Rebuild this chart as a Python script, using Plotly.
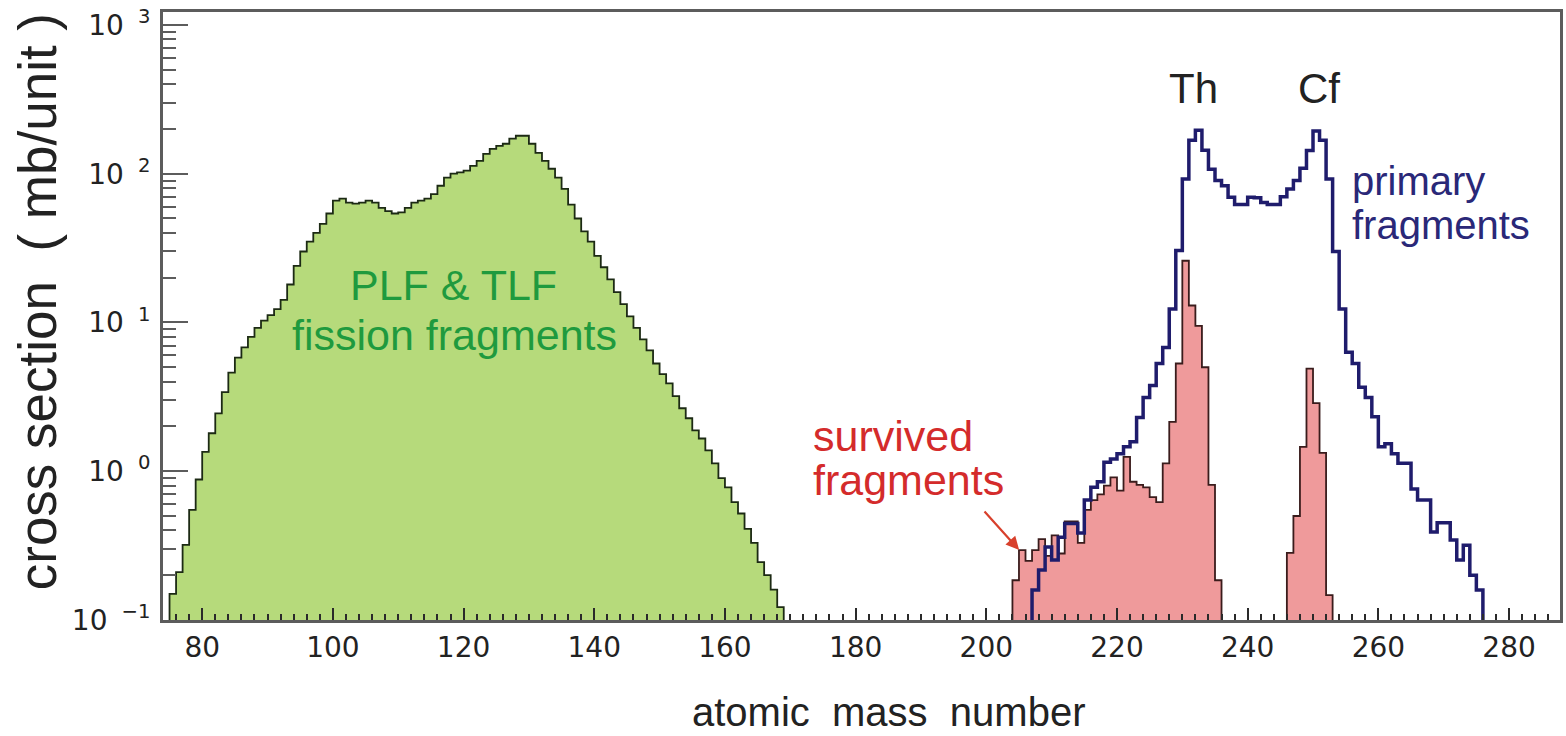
import plotly.graph_objects as go

# ---- cross sections per mass unit (mb/unit); each list starts at its first bin's lower edge ----
fission_start = 75
fission_vals = [
    0.15, 0.21, 0.32, 0.55, 0.88, 1.35, 1.8, 2.45, 3.4, 4.6,          # 75-84
    5.8, 6.8, 8.0, 9.2, 10.3, 11.2, 12.3, 14.2, 18, 24,               # 85-94
    30, 35, 40, 46, 54, 66, 68, 64, 63, 64,                           # 95-104
    66, 64, 59, 56, 54, 55, 59, 64, 66, 68,                           # 105-114
    73, 83, 94, 100, 102, 105, 113, 122, 136, 147,                    # 115-124
    154, 159, 172, 180, 180, 159, 138, 122, 108, 94,                  # 125-134
    79, 62, 50, 41, 35, 28, 23.5, 19.5, 16, 13.3,                     # 135-144
    11, 9.2, 7.7, 6.5, 5.3, 4.5, 3.9, 3.2, 2.65, 2.27,                # 145-154
    1.88, 1.66, 1.38, 1.13, 0.9, 0.78, 0.62, 0.52, 0.41, 0.33,        # 155-164
    0.245, 0.2, 0.16, 0.122,                                          # 165-168
]

survived_th_start = 204
survived_th_vals = [
    0.185, 0.295, 0.25, 0.295, 0.35, 0.27, 0.37, 0.28, 0.46, 0.46,    # 204-213
    0.33, 0.55, 0.64, 0.70, 0.80, 0.91, 0.74, 1.25, 0.85, 0.81,       # 214-223
    0.78, 0.67, 0.62, 1.13, 2.15, 5.3, 26, 13, 9.5, 5.0,              # 224-233
    0.81, 0.185,                                                      # 234-235
]

survived_cf_start = 246
survived_cf_vals = [0.283, 0.5, 1.46, 4.9, 2.87, 1.33, 0.147]        # 246-252

primary_start = 207
primary_vals = [
    0.159, 0.217, 0.31, 0.253, 0.36, 0.445, 0.445, 0.385, 0.64, 0.78, # 207-216
    0.85, 1.15, 1.21, 1.31, 1.46, 1.58, 2.3, 3.13, 3.77, 5.3,         # 217-226
    6.8, 12.3, 30.5, 92, 168, 196, 144, 107, 90, 83,                  # 227-236
    69.5, 62, 62, 69.5, 69, 64, 62, 62, 70, 79,                       # 237-246
    90, 109, 143, 194, 168, 92, 30, 12.3, 6.3, 5.3,                   # 247-256
    3.67, 3.13, 2.32, 1.46, 1.53, 1.31, 1.13, 1.13, 0.76, 0.64,       # 257-266
    0.64, 0.39, 0.45, 0.45, 0.345, 0.253, 0.318, 0.2, 0.159,          # 267-275
]

x_tick_vals = [80, 100, 120, 140, 160, 180, 200, 220, 240, 260, 280]
y_tick_vals = [0.1, 1, 10, 100, 1000]
y_tick_text = ["10\u2002<sup>\u22121</sup>", "10\u2002<sup>0</sup>", "10\u2002<sup>1</sup>",
               "10\u2002<sup>2</sup>", "10\u2002<sup>3</sup>"]

FLOOR = 1e-3  # below the visible range, closes the filled outlines


def step_outline(start, vals):
    """Histogram outline (1-unit bins) as hv-step vertices, closed down to FLOOR."""
    xs, ys = [start], [FLOOR]
    for i, v in enumerate(vals):
        xs.append(start + i)
        ys.append(v)
    end = start + len(vals)
    xs += [end, end]
    ys += [vals[-1], FLOOR]
    return xs, ys


fig = go.Figure()

gx, gy = step_outline(fission_start, fission_vals)
fig.add_trace(go.Scatter(x=gx, y=gy, mode="lines", line_shape="hv", fill="toself",
                         fillcolor="#b6da7b", line=dict(color="#1c2a14", width=1.8),
                         hoverinfo="skip", showlegend=False))

for start, vals in ((survived_th_start, survived_th_vals), (survived_cf_start, survived_cf_vals)):
    rx, ry = step_outline(start, vals)
    fig.add_trace(go.Scatter(x=rx, y=ry, mode="lines", line_shape="hv", fill="toself",
                             fillcolor="#ef9a9b", line=dict(color="#3a1c1c", width=1.8),
                             hoverinfo="skip", showlegend=False))

bx, by = step_outline(primary_start, primary_vals)
fig.add_trace(go.Scatter(x=bx, y=by, mode="lines", line_shape="hv",
                         line=dict(color="#1f1c6c", width=3.5),
                         hoverinfo="skip", showlegend=False))

L, R, T, B = 163, 1563, 12, 620  # plot-area edges in page pixels
W, H = 1566, 736


def px(xp):
    return (xp - L) / (R - L)


def py(yp):
    return (B - yp) / (B - T)


axis_col = "#5c5c5c"
tick_font = dict(family="DejaVu Sans", size=28, color="#222222")

y_minor = [k * 10.0 ** d for d in range(-1, 3) for k in range(2, 10)]

fig.update_layout(
    width=W, height=H,
    margin=dict(l=L, r=W - R, t=T, b=H - B, pad=0),
    paper_bgcolor="white", plot_bgcolor="white",
    xaxis=dict(range=[74, 287.8], tickmode="array", tickvals=x_tick_vals,
               ticks="inside", ticklen=12, tickwidth=2, tickcolor="#2a2a2a",
               minor=dict(dtick=2, tick0=0, ticks="inside", ticklen=6, tickwidth=1.5,
                          tickcolor="#2a2a2a", showgrid=False),
               showline=True, linecolor=axis_col, linewidth=3, mirror=True,
               showgrid=False, zeroline=False, tickfont=tick_font,
               ticklabelstandoff=0),
    yaxis=dict(type="log", range=[-1, 3.087], tickmode="array",
               tickvals=y_tick_vals, ticktext=y_tick_text,
               ticks="inside", ticklen=25, tickwidth=2, tickcolor=axis_col,
               minor=dict(tickmode="array", tickvals=y_minor, ticks="inside",
                          ticklen=13, tickwidth=2, tickcolor=axis_col, showgrid=False),
               showline=True, linecolor=axis_col, linewidth=3, mirror=True,
               showgrid=False, zeroline=False, tickfont=tick_font,
               ticklabelstandoff=4),
)

ann = []


def label(text, xp, yp, color, size, xanchor="center"):
    ann.append(dict(text=text, x=px(xp), y=py(yp), xref="paper", yref="paper",
                    xanchor=xanchor, yanchor="middle", showarrow=False,
                    font=dict(family="Liberation Sans", size=size, color=color)))


green_txt = "#1f9a3e"
red_txt = "#d42b2b"
blue_txt = "#2a2878"

label("PLF & TLF", 454, 285, green_txt, 43)
label("fission fragments", 455, 335, green_txt, 43)
label("survived", 812, 436, red_txt, 43, "left")
label("fragments", 812, 480, red_txt, 43, "left")
label("primary", 1353, 181, blue_txt, 40, "left")
label("fragments", 1353, 225, blue_txt, 40, "left")
label("Th", 1196, 88, "#222222", 42)
label("Cf", 1321, 88, "#222222", 42)

# arrow pointing at the low-mass end of the survived distribution
ann.append(dict(text="", x=px(1021), y=py(550), xref="paper", yref="paper",
                showarrow=True, ax=-36, ay=-40, arrowcolor="#d8402c",
                arrowwidth=2.2, arrowhead=2, arrowsize=1.2, standoff=0))

# axis titles
ann.append(dict(text="atomic\u00a0\u00a0mass\u00a0\u00a0number", x=px(890), y=py(712),
                xref="paper", yref="paper", xanchor="center", yanchor="middle",
                showarrow=False, font=dict(family="Liberation Sans", size=40, color="#222222")))
ann.append(dict(text="cross section\u00a0\u00a0( mb/unit )", x=px(37), y=py(302),
                xref="paper", yref="paper", xanchor="center", yanchor="middle",
                textangle=-90, showarrow=False,
                font=dict(family="Liberation Sans", size=53, color="#222222")))

fig.update_layout(annotations=ann)

fig.write_html("out.html")
